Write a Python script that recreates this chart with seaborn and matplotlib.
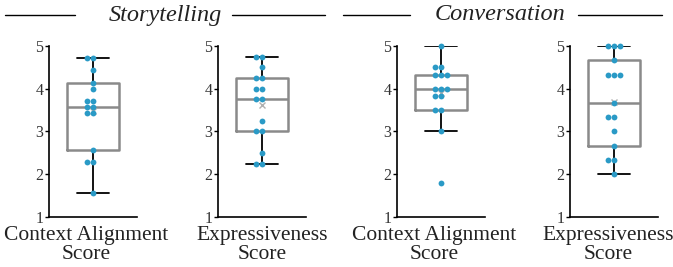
import matplotlib.pyplot as plt
import numpy as np
import seaborn as sns
from matplotlib.lines import Line2D

# scores per participant
story_context = [11/7, 16/7, 16/7, 18/7, 24/7, 24/7, 25/7, 25/7, 26/7, 26/7,
                 28/7, 29/7, 31/7, 33/7, 33/7]
story_express = [2.25, 2.25, 2.5, 3.0, 3.0, 3.25, 3.75, 3.75, 4.0, 4.0,
                 4.25, 4.25, 4.5, 4.75, 4.75]
conv_context = [1.8, 3.0, 3.5, 3.5, 23/6, 23/6, 4.0, 4.0, 4.0, 13/3, 13/3,
                13/3, 4.5, 4.5, 5.0]
conv_express = [2.0, 7/3, 7/3, 8/3, 3.0, 10/3, 10/3, 11/3, 13/3, 13/3, 13/3,
                14/3, 5.0, 5.0, 5.0]

panels = [story_context, story_express, conv_context, conv_express]
xlabels = ["Context Alignment\nScore", "Expressiveness\nScore",
           "Context Alignment\nScore", "Expressiveness\nScore"]
groups = ["Storytelling", "Conversation"]
yticks = [1, 2, 3, 4, 5]

DOT = "#2a9ac6"
BOX = "#8a8a8a"

sns.set_style("ticks")
plt.rcParams["font.family"] = ["Liberation Serif", "DejaVu Serif"]


def box_stats(values):
    ''' Box stats with exclusive quartiles and Tukey whiskers. '''
    v = np.asarray(values)
    q1, med, q3 = np.percentile(v, [25, 50, 75], method="weibull")
    iqr = q3 - q1
    lo = v[v >= q1 - 1.5 * iqr].min()
    hi = v[v <= q3 + 1.5 * iqr].max()
    return dict(med=med, q1=q1, q3=q3, whislo=lo, whishi=hi,
                mean=v.mean(), fliers=[])


fig = plt.figure(figsize=(6.73, 2.67), dpi=100)
lefts = [49, 218, 397, 570]
label_x = [0.42, 0.5, 0.42, 0.43]
for i, (vals, lab) in enumerate(zip(panels, xlabels)):
    ax = fig.add_axes([lefts[i] / 673, 0.1873, 88 / 673, 0.6404])
    ax.bxp([box_stats(vals)], positions=[0], widths=0.59, capwidths=0.36,
           showmeans=True, showfliers=False,
           boxprops=dict(color=BOX, lw=1.8),
           medianprops=dict(color=BOX, lw=1.8),
           whiskerprops=dict(color="black", lw=1.3),
           capprops=dict(color="black", lw=1.3),
           meanprops=dict(marker="x", markeredgecolor="#b0b0b0",
                          markersize=4, markeredgewidth=1))
    sns.swarmplot(y=vals, ax=ax, color=DOT, size=4.2, zorder=3)
    for c in ax.collections:
        c.set_clip_on(False)
    ax.set_xlim(-0.5, 0.5)
    ax.set_ylim(1, 5)
    ax.set_yticks(yticks)
    ax.set_xticks([])
    ax.set_xlabel(lab, fontsize=15.5, linespacing=1.0, color="#222222",
                  va="top")
    ax.xaxis.set_label_coords(label_x[i], -0.05)
    ax.tick_params(axis="y", labelsize=11.5, length=3, width=1,
                   pad=1, colors="black", labelcolor="#333333")
    for s in ["left", "bottom"]:
        ax.spines[s].set_linewidth(1.2)
        ax.spines[s].set_color("black")
    sns.despine(ax=ax)

# group headers with rules either side
ty = 1 - 15 / 267
fig.text(165 / 673, ty, groups[0], ha="center", va="center",
         fontsize=17.5, style="italic", color="#222222")
fig.text(500 / 673, ty, groups[1], ha="center", va="center",
         fontsize=17.5, style="italic", color="#222222")
for x0, x1 in [(5, 75), (232, 325), (343, 410), (578, 662)]:
    fig.add_artist(Line2D([x0 / 673, x1 / 673], [ty, ty],
                          transform=fig.transFigure, color="black", lw=1))

fig.savefig("out.png", dpi=100)
